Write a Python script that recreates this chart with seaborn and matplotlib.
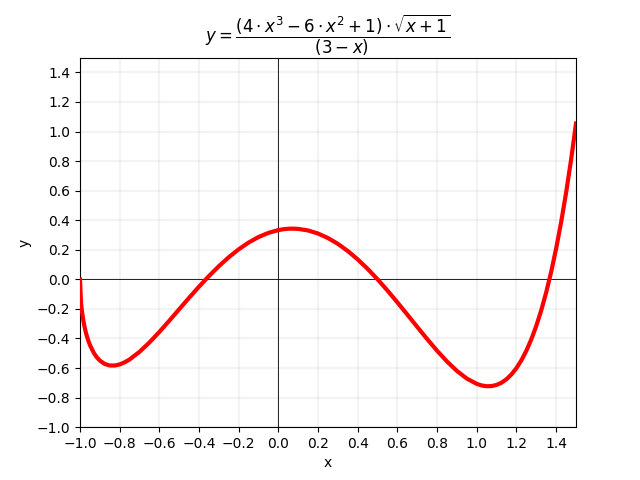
import numpy as np
import pandas as pd
import matplotlib
matplotlib.use('Agg')
import matplotlib.pyplot as plt
import seaborn as sns

# points
x_vals = [-1.0, -0.995, -0.99, -0.98, -0.97, -0.96, -0.95, -0.93, -0.915, -0.9, -0.875,
          -0.85, -0.825, -0.8, -0.775, -0.75,
          -0.7, -0.65, -0.6, -0.55, -0.5, -0.45, -0.4, -0.35, -0.3, -0.25,
          -0.2, -0.15, -0.1, -0.05, 0.0, 0.025, 0.05, 0.075, 0.1, 0.15, 0.2, 0.25,
          0.3, 0.35, 0.4, 0.45, 0.5, 0.55, 0.6, 0.65, 0.7, 0.75,
          0.8, 0.85, 0.9, 0.95, 1.0, 1.025, 1.05, 1.075, 1.1, 1.125, 1.15, 1.175,
          1.2, 1.225, 1.25, 1.275, 1.3, 1.325, 1.35, 1.375, 1.4, 1.425, 1.45, 1.475, 1.5]
y_vals = [0.0, -0.1572, -0.2196, -0.3030, -0.3620, -0.4075, -0.4441, -0.4986, -0.5278, -0.5494, -0.5724,
          -0.5826, -0.5829, -0.5753, -0.5611, -0.5417,
          -0.4903, -0.4268, -0.3556, -0.2798, -0.2020, -0.1246, -0.0492, 0.0225, 0.0892, 0.1499,
          0.2035, 0.2492, 0.2864, 0.3146, 0.3333, 0.3391, 0.3423, 0.3431, 0.3414, 0.3306, 0.3099, 0.2795,
          0.2399, 0.1914, 0.1347, 0.0706, 0.0, -0.0760, -0.1560, -0.2386, -0.3220, -0.4042,
          -0.4830, -0.5558, -0.6196, -0.6713, -0.7071, -0.7178, -0.7229, -0.7218, -0.7139, -0.6985, -0.6749, -0.6423,
          -0.5999, -0.5468, -0.4821, -0.4049, -0.3140, -0.2084, -0.0869, 0.0519, 0.2091, 0.3864, 0.5852, 0.8072, 1.0541]

x_ticks = [-1.0, -0.8, -0.6, -0.4, -0.2, 0.0, 0.2, 0.4, 0.6, 0.8, 1.0, 1.2, 1.4]
y_ticks = [-1.0, -0.8, -0.6, -0.4, -0.2, 0.0, 0.2, 0.4, 0.6, 0.8, 1.0, 1.2, 1.4]

df = pd.DataFrame({'x': x_vals, 'y': y_vals})

fig, ax = plt.subplots(figsize=(6.4, 4.8), dpi=100)

ax.axhline(0, color='black', linewidth=0.6, zorder=1)
ax.axvline(0, color='black', linewidth=0.6, zorder=1)
sns.lineplot(data=df, x='x', y='y', color='red', linewidth=3, sort=True, ax=ax,
             zorder=3, solid_joinstyle='round')

ax.set_xlim(-1.0, 1.5)
ax.set_ylim(-1.0, 1.5)
ax.set_xticks(x_ticks)
ax.set_yticks(y_ticks)
ax.grid(True, linewidth=1.5, alpha=0.15)
ax.set_axisbelow(True)

ax.set_xlabel('x')
ax.set_ylabel('y')
ax.set_title(r'$y = \dfrac{(4 \cdot x^3 - 6 \cdot x^2 + 1) \cdot \sqrt{x + 1}}{(3 - x)}$')

plt.savefig('out.png', dpi=100)
